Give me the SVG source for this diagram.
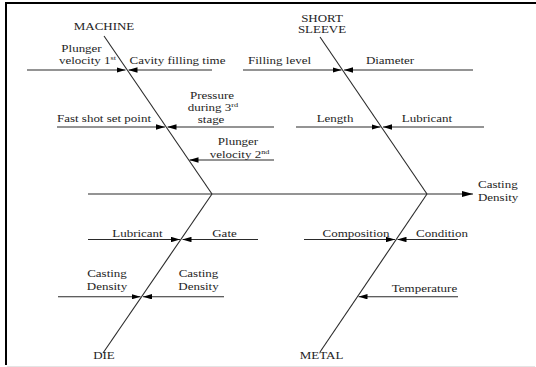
<svg xmlns="http://www.w3.org/2000/svg" width="536" height="367" viewBox="0 0 536 367">
  <style>
    .frame { stroke: #000; stroke-width: 2; fill: none; }
    .base { stroke: #e4e4e4; stroke-width: 1; fill: none; }
    .bone { stroke: #2a2a2a; stroke-width: 1.1; fill: none; }
    .cause { stroke: #2a2a2a; stroke-width: 1.1; fill: none; marker-end: url(#head); }
    text { font-family: "Liberation Serif", "Times New Roman", serif; font-size: 11px; fill: #1e1e1e; text-anchor: middle; }
    text.start { text-anchor: start; }
    .sup { font-size: 7px; }
  </style>
  <defs>
    <marker id="head" viewBox="0 0 9 5.4" refX="9" refY="2.7" markerWidth="9" markerHeight="5.4" markerUnits="userSpaceOnUse" orient="auto">
      <path d="M0,0 L9,2.7 L0,5.4 Z" fill="#000"/>
    </marker>
    <marker id="bighead" viewBox="0 0 11 6" refX="11" refY="3" markerWidth="11" markerHeight="6" markerUnits="userSpaceOnUse" orient="auto">
      <path d="M0,0 L11,3 L0,6 Z" fill="#000"/>
    </marker>
  </defs>

  <rect width="536" height="367" fill="#fff"/>

  <!-- frame -->
  <g id="frame">
    <path class="frame" d="M6,365 V3 H536"/>
    <path class="base" d="M7,366.5 H535"/>
  </g>

  <!-- spine, category bones and cause arrows -->
  <g id="connectors">
    <line class="bone" x1="88" y1="194" x2="473" y2="194" style="marker-end:url(#bighead)"/>
    <line class="bone" x1="104" y1="36" x2="212" y2="194"/>
    <line class="bone" x1="320" y1="37" x2="427" y2="194"/>
    <line class="bone" x1="212" y1="194" x2="103" y2="353"/>
    <line class="bone" x1="427" y1="194" x2="320" y2="352"/>

    <!-- machine causes -->
    <line class="cause" x1="27" y1="70" x2="125.5" y2="70"/>
    <line class="cause" x1="212" y1="70" x2="128.5" y2="70"/>
    <line class="cause" x1="57" y1="127" x2="165" y2="127"/>
    <line class="cause" x1="274" y1="127" x2="167.5" y2="127"/>
    <line class="cause" x1="274" y1="160" x2="189.5" y2="160"/>

    <!-- short sleeve causes -->
    <line class="cause" x1="243" y1="70" x2="341.5" y2="70"/>
    <line class="cause" x1="473" y1="70" x2="344" y2="70"/>
    <line class="cause" x1="296" y1="127" x2="380.5" y2="127"/>
    <line class="cause" x1="484" y1="127" x2="383" y2="127"/>

    <!-- die causes -->
    <line class="cause" x1="88" y1="239.5" x2="180" y2="239.5"/>
    <line class="cause" x1="258" y1="239.5" x2="182.5" y2="239.5"/>
    <line class="cause" x1="58" y1="296.7" x2="140.5" y2="296.7"/>
    <line class="cause" x1="224" y1="296.7" x2="143" y2="296.7"/>

    <!-- metal causes -->
    <line class="cause" x1="304" y1="239.5" x2="395" y2="239.5"/>
    <line class="cause" x1="458" y1="239.5" x2="397.5" y2="239.5"/>
    <line class="cause" x1="458" y1="296.7" x2="358.5" y2="296.7"/>
  </g>

  <!-- category heads -->
  <g id="machine"><text transform="translate(104,30) scale(1.18,1)">MACHINE</text></g>
  <g id="short-sleeve">
    <text transform="translate(322,21.5) scale(1.18,1)"><tspan x="0">SHORT</tspan><tspan x="0" dy="12">SLEEVE</tspan></text>
  </g>
  <g id="die"><text transform="translate(104,359) scale(1.18,1)">DIE</text></g>
  <g id="metal"><text transform="translate(321.5,359) scale(1.18,1)">METAL</text></g>

  <!-- effect -->
  <g id="casting-density">
    <text class="start" transform="translate(478,188.3) scale(1.18,1)"><tspan x="0">Casting</tspan><tspan x="0" dy="12.4">Density</tspan></text>
  </g>

  <!-- machine causes -->
  <g id="plunger-velocity-1">
    <text transform="translate(81.5,51.9) scale(1.18,1)"><tspan x="0">Plunger</tspan><tspan x="5.1" dy="12.3">velocity 1</tspan><tspan class="sup" dy="-4">st</tspan></text>
  </g>
  <g id="cavity-filling-time"><text transform="translate(177.5,63.5) scale(1.18,1)">Cavity filling time</text></g>
  <g id="fast-shot-set-point"><text transform="translate(104,122) scale(1.18,1)">Fast shot set point</text></g>
  <g id="pressure-3rd-stage">
    <text transform="translate(212,98.6) scale(1.18,1)"><tspan x="0">Pressure</tspan><tspan x="0.8" dy="12.3">during 3</tspan><tspan class="sup" dy="-4">rd</tspan><tspan x="-0.8" dy="16.3">stage</tspan></text>
  </g>
  <g id="plunger-velocity-2">
    <text transform="translate(238,145.3) scale(1.18,1)"><tspan x="0">Plunger</tspan><tspan x="1.3" dy="12.3">velocity 2</tspan><tspan class="sup" dy="-4">nd</tspan></text>
  </g>

  <!-- short sleeve causes -->
  <g id="filling-level"><text transform="translate(279.5,63.5) scale(1.18,1)">Filling level</text></g>
  <g id="diameter"><text transform="translate(390,63.5) scale(1.18,1)">Diameter</text></g>
  <g id="length"><text transform="translate(335,122) scale(1.18,1)">Length</text></g>
  <g id="sleeve-lubricant"><text transform="translate(427,122) scale(1.18,1)">Lubricant</text></g>

  <!-- die causes -->
  <g id="die-lubricant"><text transform="translate(137.5,236.7) scale(1.18,1)">Lubricant</text></g>
  <g id="gate"><text transform="translate(224.5,236.7) scale(1.18,1)">Gate</text></g>
  <g id="die-casting-density-left">
    <text transform="translate(107,277) scale(1.18,1)"><tspan x="0">Casting</tspan><tspan x="0" dy="13">Density</tspan></text>
  </g>
  <g id="die-casting-density-right">
    <text transform="translate(198.5,277) scale(1.18,1)"><tspan x="0">Casting</tspan><tspan x="0" dy="13">Density</tspan></text>
  </g>

  <!-- metal causes -->
  <g id="composition"><text transform="translate(356,236.7) scale(1.18,1)">Composition</text></g>
  <g id="condition"><text transform="translate(442,236.7) scale(1.18,1)">Condition</text></g>
  <g id="temperature"><text transform="translate(424.5,291.7) scale(1.18,1)">Temperature</text></g>
</svg>
